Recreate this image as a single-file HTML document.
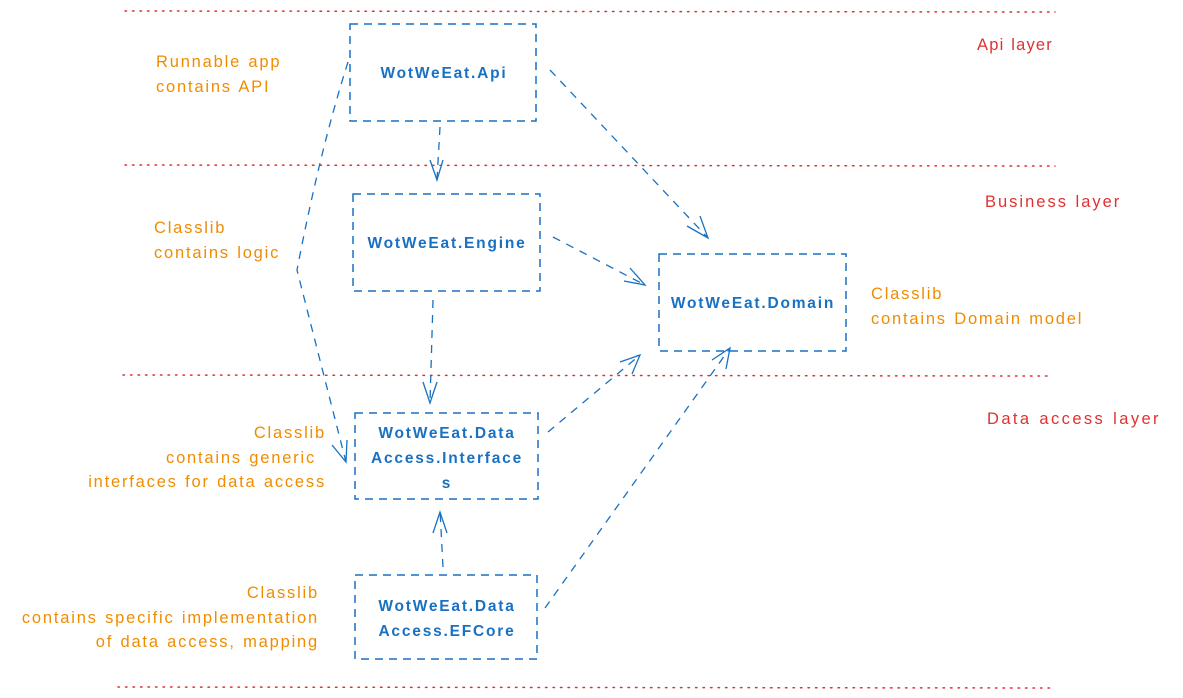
<!DOCTYPE html>
<html><head><meta charset="utf-8"><style>
html,body{margin:0;padding:0;background:#fff;}
svg{display:block;}
text{font-family:"Liberation Sans",sans-serif;font-size:16.5px;letter-spacing:1.8px;word-spacing:1px;}
.o{fill:#f08c00;}
.r{fill:#e03131;letter-spacing:1.2px;}
.b{fill:#1971c2;font-weight:bold;font-size:15.5px;letter-spacing:1.8px;}
.box{fill:none;stroke:#1971c2;stroke-width:1.5;stroke-dasharray:8 6;}
.dot{stroke:#e03131;stroke-width:1.5;stroke-dasharray:1.5 6;stroke-linecap:round;}
.ar{fill:none;stroke:#1971c2;stroke-width:1.3;stroke-dasharray:8 7;}
.hd{fill:none;stroke:#1971c2;stroke-width:1.3;}
</style></head><body>
<svg width="1183" height="698" viewBox="0 0 1183 698">
<line class="dot" x1="125" y1="11" x2="1055" y2="12"/>
<line class="dot" x1="125" y1="165" x2="1055" y2="166"/>
<line class="dot" x1="123" y1="375" x2="1052" y2="376"/>
<line class="dot" x1="118" y1="687" x2="1050" y2="688"/>

<rect class="box" x="350" y="24" width="186" height="97"/>
<rect class="box" x="353" y="194" width="187" height="97"/>
<rect class="box" x="659" y="254" width="187" height="97"/>
<rect class="box" x="355" y="413" width="183" height="86"/>
<rect class="box" x="355" y="575" width="182" height="84"/>

<text class="b" x="444" y="78" text-anchor="middle">WotWeEat.Api</text>
<text class="b" x="447" y="248" text-anchor="middle">WotWeEat.Engine</text>
<text class="b" x="753" y="308" text-anchor="middle">WotWeEat.Domain</text>
<text class="b" x="447" y="438" text-anchor="middle">WotWeEat.Data</text>
<text class="b" x="447" y="463" text-anchor="middle">Access.Interface</text>
<text class="b" x="447" y="488" text-anchor="middle">s</text>
<text class="b" x="447" y="611" text-anchor="middle">WotWeEat.Data</text>
<text class="b" x="447" y="636" text-anchor="middle">Access.EFCore</text>

<text class="o" x="156" y="67">Runnable app</text>
<text class="o" x="156" y="92">contains API</text>
<text class="o" x="154" y="233">Classlib</text>
<text class="o" x="154" y="258">contains logic</text>
<text class="o" x="871" y="299">Classlib</text>
<text class="o" x="871" y="324">contains Domain model</text>
<text class="o" x="326" y="438" text-anchor="end">Classlib</text>
<text class="o" x="316" y="463" text-anchor="end">contains generic</text>
<text class="o" x="326" y="487" text-anchor="end">interfaces for data access</text>
<text class="o" x="319" y="598" text-anchor="end">Classlib</text>
<text class="o" x="319" y="623" text-anchor="end">contains specific implementation</text>
<text class="o" x="319" y="647" text-anchor="end">of data access, mapping</text>

<text class="r" x="977" y="50">Api layer</text>
<text class="r" x="985" y="207" style="letter-spacing:2px">Business layer</text>
<text class="r" x="987" y="424" style="letter-spacing:2.4px">Data access layer</text>

<path class="ar" d="M440 127 L437 180"/>
<path class="hd" d="M430 160 L437 180 L443 160"/>
<path class="ar" d="M550 70 L708 238"/>
<path class="hd" d="M687 226 L708 238 L700 216"/>
<path class="ar" d="M553 237 L645 285"/>
<path class="hd" d="M624 281 L645 285 L630 268"/>
<path class="ar" d="M433 300 L430 403"/>
<path class="hd" d="M423 382 L430 403 L437 382"/>
<path class="ar" d="M348 62 Q320 150 297 270 Q325 380 346 462"/>
<path class="hd" d="M332 445 L346 462 L347 440"/>
<path class="ar" d="M548 432 L640 355"/>
<path class="hd" d="M620 362 L640 355 L632 374"/>
<path class="ar" d="M443 567 L440 510"/>
<path class="hd" d="M433 533 L440 512 L447 533"/>
<path class="ar" d="M545 608 L730 348"/>
<path class="hd" d="M712 360 L730 348 L726 369"/>
</svg>
</body></html>
